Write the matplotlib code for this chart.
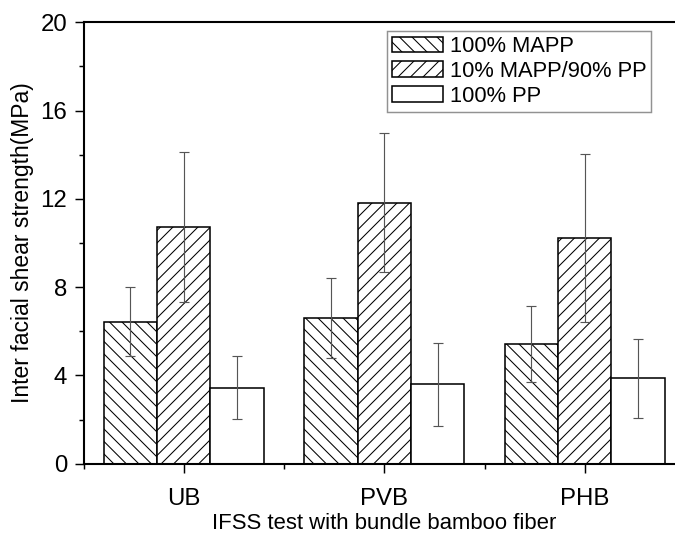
import numpy as np
import matplotlib.pyplot as plt
from matplotlib.ticker import MultipleLocator, FixedLocator

plt.rcParams['font.family'] = ['Liberation Sans', 'DejaVu Sans']
plt.rcParams['hatch.linewidth'] = 0.5

# data
groups = ['UB', 'PVB', 'PHB']
series = ['100% MAPP', '10% MAPP/90% PP', '100% PP']
mapp = [6.43, 6.59, 5.42]
mapp_err = [1.57, 1.82, 1.72]
mix = [10.72, 11.83, 10.21]
mix_err = [3.39, 3.16, 3.80]
pp = [3.44, 3.61, 3.87]
pp_err = [1.42, 1.88, 1.78]

values = [mapp, mix, pp]
errors = [mapp_err, mix_err, pp_err]
hatches = ['\\\\\\\\', '////', '']

dpi = 150
fig = plt.figure(figsize=(675 / dpi, 536 / dpi), dpi=dpi)
# right edge of the axes sits just outside the picture, as in the original
ax = fig.add_axes([83.5 / 675, (536 - 463.7) / 536, (685 - 83.5) / 675, (463.7 - 22.3) / 536])

x = np.arange(1, len(groups) + 1)
w = 0.2667
for i in range(3):
    ax.bar(x + (i - 1) * w, values[i], width=w, color='white', edgecolor='black',
           linewidth=0.75, hatch=hatches[i], label=series[i], zorder=2)
    ax.errorbar(x + (i - 1) * w, values[i], yerr=errors[i], fmt='none',
                ecolor='#555555', elinewidth=0.55, capsize=2.2, capthick=0.55, zorder=3)

ax.set_xlim(0.5, 3.5)
ax.set_ylim(0, 20)
ax.set_xticks(x)
ax.set_xticklabels(groups)
ax.xaxis.set_minor_locator(FixedLocator([0.5, 1.5, 2.5, 3.5]))
ax.yaxis.set_major_locator(MultipleLocator(4))
ax.yaxis.set_minor_locator(MultipleLocator(2))
ax.tick_params(which='major', direction='out', length=4.3, width=0.7, labelsize=11.5)
ax.tick_params(axis='x', which='major', pad=7.5)
ax.tick_params(axis='y', which='major', pad=3.5)
ax.tick_params(which='minor', direction='out', length=2.4, width=0.7)
for s in ax.spines.values():
    s.set_linewidth(1.0)

ax.set_xlabel('IFSS test with bundle bamboo fiber', fontsize=10.6, labelpad=1.5)
ax.set_ylabel('Inter facial shear strength(MPa)', fontsize=11, labelpad=3)

leg = ax.legend(loc='upper right', bbox_to_anchor=(651 / 675, 1 - 31 / 536),
                bbox_transform=fig.transFigure, fontsize=10.5, frameon=True,
                fancybox=False, edgecolor='#777777', handlelength=2.35,
                handleheight=0.7, handletextpad=0.3, labelspacing=0.18,
                borderpad=0.22, borderaxespad=0)
leg.get_frame().set_linewidth(0.7)

fig.savefig('out.png', dpi=dpi)
